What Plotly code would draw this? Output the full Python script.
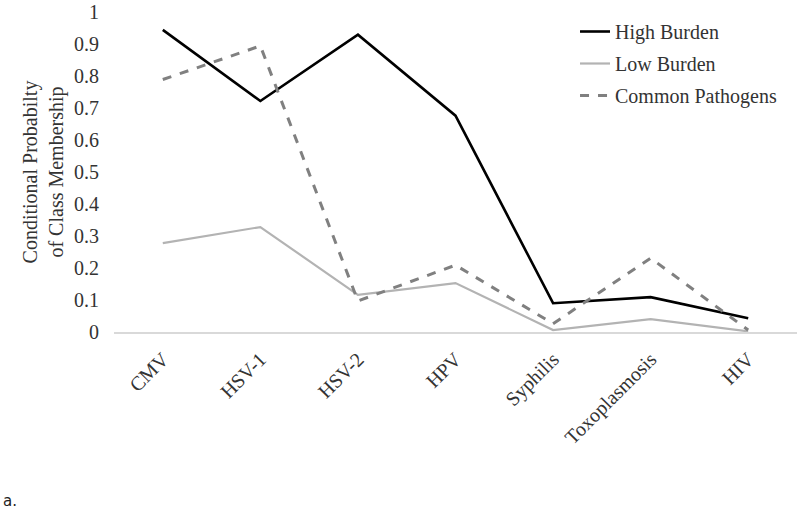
import plotly.graph_objects as go

categories = ["CMV", "HSV-1", "HSV-2", "HPV", "Syphilis", "Toxoplasmosis", "HIV"]
high_burden = [0.944, 0.722, 0.929, 0.676, 0.090, 0.109, 0.043]
low_burden = [0.278, 0.328, 0.116, 0.153, 0.006, 0.040, 0.002]
common_pathogens = [0.789, 0.894, 0.097, 0.209, 0.026, 0.231, 0.006]
y_ticks = [0, 0.1, 0.2, 0.3, 0.4, 0.5, 0.6, 0.7, 0.8, 0.9, 1]
y_tick_labels = ["0", "0.1", "0.2", "0.3", "0.4", "0.5", "0.6", "0.7", "0.8", "0.9", "1"]

SERIF = "Liberation Serif"
TXT = "#333333"

fig = go.Figure()
fig.add_trace(go.Scatter(x=categories, y=high_burden, mode="lines", name="High Burden",
                         legendgroup="a", line=dict(color="#000000", width=2.6)))
fig.add_trace(go.Scatter(x=categories, y=low_burden, mode="lines", name="Low Burden",
                         legendgroup="b", line=dict(color="#b3b3b3", width=2.2)))
fig.add_trace(go.Scatter(x=categories, y=common_pathogens, mode="lines", name="Common Pathogens",
                         legendgroup="c", line=dict(color="#808080", width=3, dash="dash")))

fig.update_layout(
    width=800, height=511,
    margin=dict(l=114, r=3, t=12, b=179, autoexpand=False),
    paper_bgcolor="white", plot_bgcolor="white",
    font=dict(family=SERIF, size=20, color=TXT),
    showlegend=True,
    legend=dict(x=0.675, y=1.0, xanchor="left", yanchor="top",
                font=dict(family=SERIF, size=20, color=TXT),
                tracegroupgap=3, traceorder="grouped", bgcolor="rgba(0,0,0,0)"),
    xaxis=dict(type="category", range=[-0.5, 6.5], showgrid=False, zeroline=False,
               showline=True, linecolor="#d9d9d9", linewidth=1.5, ticks="",
               tickangle=-45, ticklabelstandoff=6,
               tickfont=dict(family=SERIF, size=20, color=TXT)),
    yaxis=dict(range=[0, 1], tickvals=y_ticks, ticktext=y_tick_labels, showgrid=False,
               zeroline=False, showline=False, ticks="", ticklabelstandoff=14,
               tickfont=dict(family=SERIF, size=20, color=TXT),
               title=dict(text="Conditional Probabilty<br>of Class Membership",
                          font=dict(family=SERIF, size=20, color=TXT), standoff=5)),
    annotations=[dict(text="a.", xref="paper", yref="paper",
                      x=(1 - 114) / 683, y=(332 - 501) / 320,
                      xanchor="left", yanchor="middle", showarrow=False,
                      font=dict(family="DejaVu Sans", size=15, color="#222222"))],
)

fig.write_html("out.html", config={"displayModeBar": False},
               post_script="document.body.style.margin='0';")
